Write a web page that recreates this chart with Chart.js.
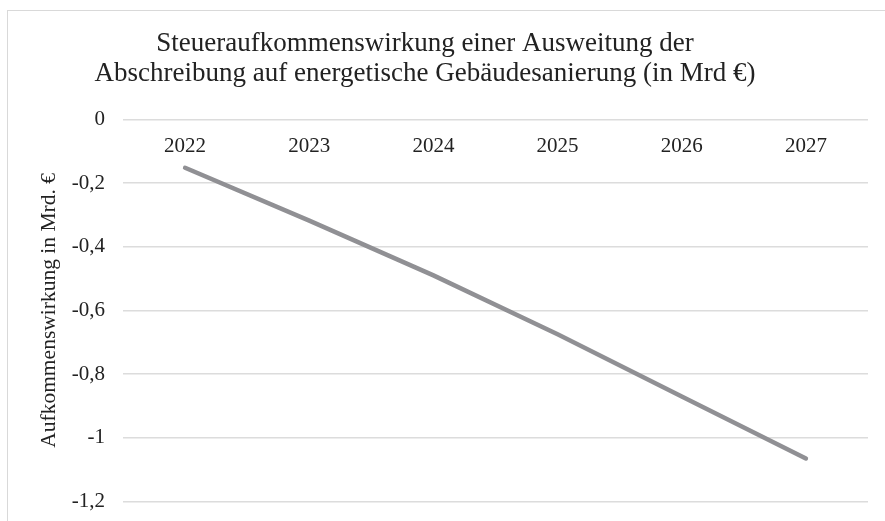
<!DOCTYPE html>
<html>
<head>
<meta charset="utf-8">
<script src="https://cdn.jsdelivr.net/npm/chart.js@4/dist/chart.umd.min.js"></script>
<style>
  body { margin: 0; background: #fff; }
  #frame { position: absolute; left: 7px; top: 10px; width: 900px; height: 600px;
           border-left: 1.5px solid #d9d9d9; border-top: 1.5px solid #d9d9d9; }
  #myLineChart { position: absolute; left: 0; top: 0; }
</style>
</head>
<body>
<div id="frame"></div>
<canvas id="myLineChart" width="885" height="521"></canvas>
<script>
const years = ['2022', '2023', '2024', '2025', '2026', '2027'];
const aufkommen = [-0.152, -0.318, -0.49, -0.675, -0.87, -1.065];
const titleLines = ['Steueraufkommenswirkung einer Ausweitung der',
                    'Abschreibung auf energetische Gebäudesanierung (in Mrd €)'];
const yAxisTitle = 'Aufkommenswirkung in Mrd. €';

const serif = 'Liberation Serif';

// schiebt den Titel etwas nach links, wie im Original
const titleShift = {
    id: 'titleShift',
    afterLayout(chart) {
        const t = chart.titleBlock;
        if (!t) return;
        t.left = 0;
        t.right = 850;
    }
};

new Chart(document.getElementById('myLineChart'), {
    type: 'line',
    data: {
        labels: years,
        datasets: [{
            data: aufkommen,
            borderColor: '#909094',
            borderWidth: 4.5,
            borderCapStyle: 'round',
            pointRadius: 0,
            tension: 0,
            fill: false
        }]
    },
    options: {
        responsive: false,
        animation: false,
        layout: { padding: { left: 0, right: 17, top: 0, bottom: 19.5 } },
        plugins: {
            legend: { display: false },
            tooltip: { enabled: false },
            title: {
                display: true,
                text: titleLines,
                color: '#222',
                font: { family: serif, size: 27, weight: 'normal', lineHeight: 1.12 },
                padding: { top: 28.75, bottom: 30.15 }
            }
        },
        scales: {
            x: {
                position: { y: 0 },
                offset: true,
                afterFit: s => { s.paddingTop = 0; s.paddingBottom = 0; },
                grid: { display: false, drawTicks: false },
                border: { display: false },
                ticks: {
                    color: '#222',
                    font: { family: serif, size: 21 },
                    padding: 14.2,
                    maxRotation: 0,
                    autoSkip: false
                }
            },
            y: {
                min: -1.2,
                max: 0,
                afterFit: s => { s.width = 123; s.paddingBottom = 0; },
                grid: { color: '#dcdcdc', lineWidth: 1.5, drawTicks: false },
                border: { display: false },
                ticks: {
                    stepSize: 0.2,
                    color: '#222',
                    font: { family: serif, size: 21 },
                    padding: 18,
                    callback: v => String(Math.round(v * 10) / 10).replace('.', ',')
                },
                title: {
                    display: true,
                    text: yAxisTitle,
                    color: '#222',
                    font: { family: serif, size: 21.5 },
                    padding: { top: 36.9, bottom: 0 }
                }
            }
        }
    },
    plugins: [titleShift]
});
</script>
</body>
</html>
